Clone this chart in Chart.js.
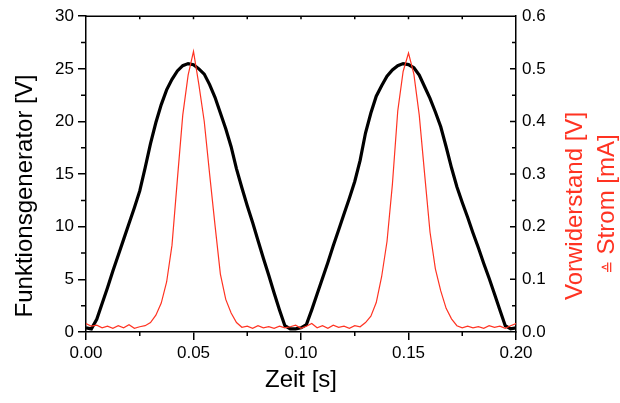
<!DOCTYPE html>
<html>
<head>
<meta charset="utf-8">
<script src="https://cdn.jsdelivr.net/npm/chart.js@4/dist/chart.umd.min.js"></script>
<style>
  html, body { margin: 0; padding: 0; background: #fff; }
  #wrap { width: 620px; height: 403px; }
</style>
</head>
<body>
<div id="wrap"><canvas id="chart-scope"></canvas></div>
<script>
// Zeit [s]
const zeit = [
  0.0000, 0.0025, 0.0050, 0.0075, 0.0100, 0.0125, 0.0150, 0.0175, 0.0200, 0.0225,
  0.0250, 0.0275, 0.0300, 0.0325, 0.0350, 0.0375, 0.0400, 0.0425, 0.0450, 0.0475,
  0.0500, 0.0525, 0.0550, 0.0575, 0.0600, 0.0625, 0.0650, 0.0675, 0.0700, 0.0725,
  0.0750, 0.0775, 0.0800, 0.0825, 0.0850, 0.0875, 0.0900, 0.0925, 0.0950, 0.0975,
  0.1000, 0.1025, 0.1050, 0.1075, 0.1100, 0.1125, 0.1150, 0.1175, 0.1200, 0.1225,
  0.1250, 0.1275, 0.1300, 0.1325, 0.1350, 0.1375, 0.1400, 0.1425, 0.1450, 0.1475,
  0.1500, 0.1525, 0.1550, 0.1575, 0.1600, 0.1625, 0.1650, 0.1675, 0.1700, 0.1725,
  0.1750, 0.1775, 0.1800, 0.1825, 0.1850, 0.1875, 0.1900, 0.1925, 0.1950, 0.1975,
  0.2000
];

// Funktionsgenerator [V]
const generator = [
  0.4, 0.3, 1.2, 2.7, 4.2, 5.8, 7.3, 8.8, 10.3, 11.8,
  13.4, 15.6, 17.9, 19.9, 21.6, 23.0, 24.0, 24.8, 25.3, 25.5,
  25.4, 25.0, 24.5, 23.5, 22.3, 20.8, 19.3, 17.6, 15.5, 13.7,
  12.0, 10.4, 8.7, 7.0, 5.4, 3.7, 2.1, 0.6, 0.3, 0.3,
  0.4, 0.7, 2.1, 3.6, 5.1, 6.6, 8.2, 9.7, 11.2, 12.7,
  14.3, 16.3, 18.9, 20.8, 22.4, 23.4, 24.3, 24.9, 25.3, 25.5,
  25.4, 25.1, 24.4, 23.3, 22.2, 20.9, 19.5, 17.6, 15.6, 13.8,
  12.3, 10.9, 9.4, 8.0, 6.5, 5.1, 3.6, 2.1, 0.6, 0.3,
  0.4
];

// Vorwiderstand [V] (= Strom [mA])
const vorwiderstand = [
  0.016, 0.011, 0.013, 0.008, 0.011, 0.007, 0.012, 0.008, 0.014, 0.007,
  0.010, 0.012, 0.018, 0.032, 0.055, 0.095, 0.165, 0.290, 0.412, 0.488,
  0.533, 0.470, 0.400, 0.300, 0.203, 0.110, 0.062, 0.036, 0.018, 0.009,
  0.011, 0.007, 0.012, 0.008, 0.010, 0.007, 0.011, 0.008, 0.010, 0.013,
  0.007, 0.011, 0.016, 0.008, 0.012, 0.007, 0.013, 0.009, 0.011, 0.007,
  0.012, 0.010, 0.018, 0.030, 0.056, 0.105, 0.172, 0.280, 0.420, 0.495,
  0.530, 0.490, 0.412, 0.300, 0.190, 0.120, 0.078, 0.045, 0.025, 0.012,
  0.008, 0.011, 0.008, 0.010, 0.007, 0.012, 0.009, 0.011, 0.007, 0.012,
  0.016
];

const xMinorTicks = [0.025, 0.075, 0.125, 0.175];
const xTopTicks = [0.025, 0.05, 0.075, 0.1, 0.125, 0.15, 0.175];
const yMinorTicks = [2.5, 7.5, 12.5, 17.5, 22.5, 27.5];
const y2MajorTicks = [0.1, 0.2, 0.3, 0.4, 0.5];
const y2MinorTicks = [0.05, 0.15, 0.25, 0.35, 0.45, 0.55];

const RED = '#ff3322';
const FONT = '"Liberation Sans", Arial, Helvetica, sans-serif';

const decor = {
  id: 'decor',
  afterDraw(chart) {
    const ctx = chart.ctx;
    const a = chart.chartArea;
    const x = chart.scales.x, y = chart.scales.y, y2 = chart.scales.y2;
    ctx.save();
    ctx.strokeStyle = '#000';
    ctx.lineWidth = 1.5;
    ctx.beginPath();
    // top frame line + inward ticks
    ctx.moveTo(a.left, a.top);
    ctx.lineTo(a.right, a.top);
    xTopTicks.forEach(v => {
      const px = x.getPixelForValue(v);
      ctx.moveTo(px, a.top);
      ctx.lineTo(px, a.top + 3);
    });
    // bottom minor ticks
    xMinorTicks.forEach(v => {
      const px = x.getPixelForValue(v);
      ctx.moveTo(px, a.bottom);
      ctx.lineTo(px, a.bottom + 4);
    });
    // left minor ticks
    yMinorTicks.forEach(v => {
      const py = y.getPixelForValue(v);
      ctx.moveTo(a.left, py);
      ctx.lineTo(a.left - 5, py);
    });
    // right ticks, pointing inward
    y2MajorTicks.forEach(v => {
      const py = y2.getPixelForValue(v);
      ctx.moveTo(a.right, py);
      ctx.lineTo(a.right - 6, py);
    });
    y2MinorTicks.forEach(v => {
      const py = y2.getPixelForValue(v);
      ctx.moveTo(a.right, py);
      ctx.lineTo(a.right - 4, py);
    });
    ctx.stroke();

    // rotated axis titles
    ctx.font = '24px ' + FONT;
    ctx.textAlign = 'center';
    ctx.textBaseline = 'middle';

    ctx.save();
    ctx.translate(25, 196);
    ctx.rotate(-Math.PI / 2);
    ctx.fillStyle = '#000';
    ctx.fillText('Funktionsgenerator [V]', 0, 0);
    ctx.restore();

    ctx.save();
    ctx.translate(575, 206);
    ctx.rotate(-Math.PI / 2);
    ctx.fillStyle = RED;
    ctx.fillText('Vorwiderstand [V]', 0, 0);
    ctx.restore();

    // second line: small "≙" then "Strom [mA]"
    ctx.save();
    ctx.translate(606, 204);
    ctx.rotate(-Math.PI / 2);
    ctx.fillStyle = RED;
    const main = ' Strom [mA]';
    ctx.font = '24px ' + FONT;
    const wMain = ctx.measureText(main).width;
    ctx.font = '15px "DejaVu Sans", sans-serif';
    const wSym = ctx.measureText('\u2259').width;
    const start = -(wMain + wSym) / 2;
    ctx.textAlign = 'left';
    ctx.textBaseline = 'alphabetic';
    ctx.fillText('\u2259', start, 8);
    ctx.font = '24px ' + FONT;
    ctx.fillText(main, start + wSym, 8);
    ctx.restore();

    ctx.restore();
  }
};

const ctxEl = document.getElementById('chart-scope');

new Chart(ctxEl, {
  type: 'line',
  data: {
    datasets: [
      {
        label: 'Vorwiderstand',
        data: zeit.map((t, i) => ({ x: t, y: vorwiderstand[i] })),
        borderColor: RED,
        borderWidth: 1.2,
        pointRadius: 0,
        tension: 0,
        yAxisID: 'y2',
        order: 0
      },
      {
        label: 'Funktionsgenerator',
        data: zeit.map((t, i) => ({ x: t, y: generator[i] })),
        borderColor: '#000',
        borderWidth: 3.2,
        pointRadius: 0,
        tension: 0,
        yAxisID: 'y',
        order: 1
      }
    ]
  },
  options: {
    responsive: true,
    maintainAspectRatio: false,
    animation: false,
    layout: { padding: { top: 16, left: 0, right: 0, bottom: 0 } },
    plugins: {
      legend: { display: false },
      tooltip: { enabled: false }
    },
    scales: {
      x: {
        type: 'linear',
        position: 'bottom',
        min: 0,
        max: 0.2,
        ticks: {
          stepSize: 0.05,
          callback: v => v.toFixed(2),
          color: '#000',
          font: { family: FONT, size: 17 },
          padding: 3,
          maxRotation: 0
        },
        grid: { drawOnChartArea: false, tickLength: 8, color: '#000', lineWidth: 1.5 },
        border: { color: '#000', width: 1.5 },
        title: {
          display: true,
          text: 'Zeit [s]',
          color: '#000',
          font: { family: FONT, size: 24 },
          padding: { top: 0, bottom: 8 }
        },
        afterFit: s => { s.height = 71; }
      },
      y: {
        position: 'left',
        min: 0,
        max: 30,
        ticks: {
          stepSize: 5,
          color: '#000',
          font: { family: FONT, size: 17 },
          padding: 4
        },
        grid: { drawOnChartArea: false, tickLength: 8, color: '#000', lineWidth: 1.5 },
        border: { color: '#000', width: 1.5 },
        afterFit: s => { s.width = 86; }
      },
      y2: {
        position: 'right',
        min: 0,
        max: 0.6,
        ticks: {
          stepSize: 0.1,
          callback: v => v.toFixed(1),
          color: '#000',
          font: { family: FONT, size: 17 },
          padding: 6
        },
        grid: { drawOnChartArea: false, drawTicks: false },
        border: { color: '#000', width: 1.5 },
        afterFit: s => { s.width = 104; }
      }
    }
  },
  plugins: [decor]
});
</script>
</body>
</html>
